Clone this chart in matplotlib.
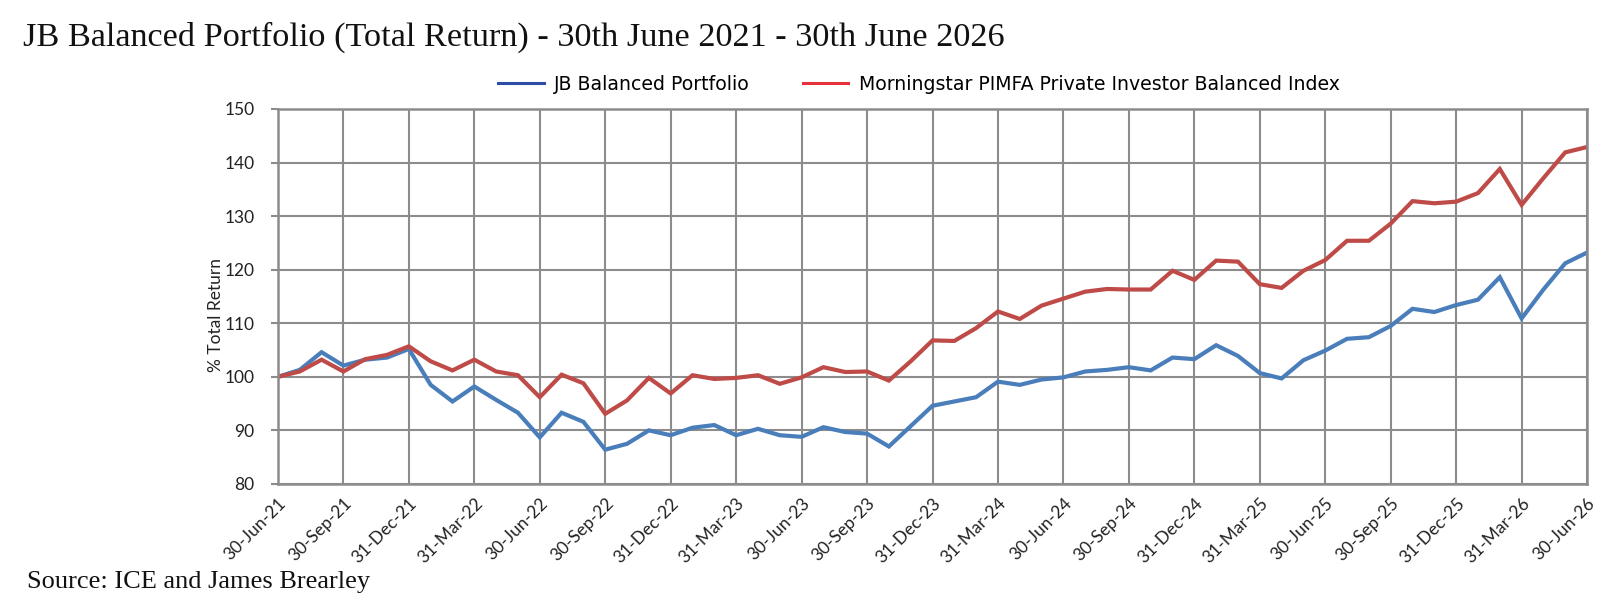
import matplotlib.pyplot as plt
from matplotlib.lines import Line2D
import numpy as np

# monthly values, 30-Jun-21 .. 30-Jun-26 (61 points)
jb_portfolio = [
    100.0, 101.3, 104.6, 102.1, 103.2, 103.6, 105.2, 98.5, 95.4, 98.2,
    95.7, 93.3, 88.7, 93.3, 91.6, 86.4, 87.5, 90.0, 89.1, 90.5,
    91.0, 89.1, 90.3, 89.1, 88.8, 90.6, 89.7, 89.4, 87.0, 90.8,
    94.6, 95.4, 96.2, 99.1, 98.5, 99.5, 99.9, 101.0, 101.3, 101.8,
    101.2, 103.6, 103.3, 105.9, 103.9, 100.7, 99.7, 103.1, 104.9, 107.1,
    107.4, 109.5, 112.7, 112.1, 113.4, 114.4, 118.6, 110.9, 116.3, 121.2,
    123.2,
]
pimfa_index = [
    100.0, 101.0, 103.2, 101.0, 103.3, 104.1, 105.7, 102.9, 101.2, 103.2,
    101.0, 100.3, 96.2, 100.4, 98.8, 93.1, 95.6, 99.8, 96.9, 100.3,
    99.6, 99.8, 100.3, 98.7, 99.9, 101.8, 100.9, 101.0, 99.3, 102.9,
    106.8, 106.7, 109.1, 112.2, 110.8, 113.3, 114.6, 115.9, 116.4, 116.3,
    116.3, 119.8, 118.1, 121.7, 121.5, 117.3, 116.6, 119.8, 121.8, 125.4,
    125.4, 128.6, 132.8, 132.4, 132.7, 134.3, 138.8, 132.1, 137.1, 141.9,
    142.9,
]
quarter_labels = [
    "30-Jun-21", "30-Sep-21", "31-Dec-21", "31-Mar-22", "30-Jun-22", "30-Sep-22",
    "31-Dec-22", "31-Mar-23", "30-Jun-23", "30-Sep-23", "31-Dec-23", "31-Mar-24",
    "30-Jun-24", "30-Sep-24", "31-Dec-24", "31-Mar-25", "30-Jun-25", "30-Sep-25",
    "31-Dec-25", "31-Mar-26", "30-Jun-26",
]
y_ticks = [80, 90, 100, 110, 120, 130, 140, 150]

blue = "#4A7EBB"
red = "#BE4B48"
grid_col = "#8C8C8C"
serif = "Liberation Serif"
sans = "Lato"

fig = plt.figure(figsize=(16.15, 6.12), dpi=100)
ax = fig.add_axes([0.1721, 0.2092, 0.8106, 0.6127])

months = np.arange(len(jb_portfolio))
ax.plot(months, jb_portfolio, color=blue, lw=3.0, solid_joinstyle="miter")
ax.plot(months, pimfa_index, color=red, lw=3.0, solid_joinstyle="miter")

ax.set_xlim(0, len(months) - 1)
ax.set_ylim(80, 150)
ax.set_yticks(y_ticks)
ax.set_xticks(months[::3])
ax.set_xticklabels(quarter_labels, rotation=45, ha="right", rotation_mode="anchor",
                   fontsize=12.5, family=sans, color="#222222")
for lab in ax.get_yticklabels():
    lab.set_family(sans)
ax.tick_params(axis="y", length=5, width=1.5, color=grid_col, labelsize=12.5,
               labelcolor="#222222", pad=12)
ax.tick_params(axis="x", length=0, pad=8)
ax.grid(True, color=grid_col, lw=1.5)
ax.set_axisbelow(True)
for s in ax.spines.values():
    s.set_color(grid_col)
    s.set_linewidth(1.8)

ax.set_ylabel("% Total Return", fontsize=12.5, family=sans, color="#222222")
ax.yaxis.set_label_coords(-0.041, 0.45)

handles = [Line2D([], [], color="#2B4DA8", lw=2.2),
           Line2D([], [], color="#E8323A", lw=2.2)]
fig.legend(handles, ["JB Balanced Portfolio",
                     "Morningstar PIMFA Private Investor Balanced Index"],
           loc="center", bbox_to_anchor=(0.569, 0.862), ncol=2, frameon=False,
           prop={"family": "DejaVu Sans", "size": 13.6}, handlelength=2.4,
           handletextpad=0.55, columnspacing=2.8)

fig.text(0.014, 0.925, "JB Balanced Portfolio (Total Return) - 30th June 2021 - 30th June 2026",
         fontsize=24.7, family=serif, color="#111111", va="baseline")
fig.text(0.017, 0.04, "Source: ICE and James Brearley",
         fontsize=19, family=serif, color="#111111", va="baseline")

fig.savefig("out.png", dpi=100)
